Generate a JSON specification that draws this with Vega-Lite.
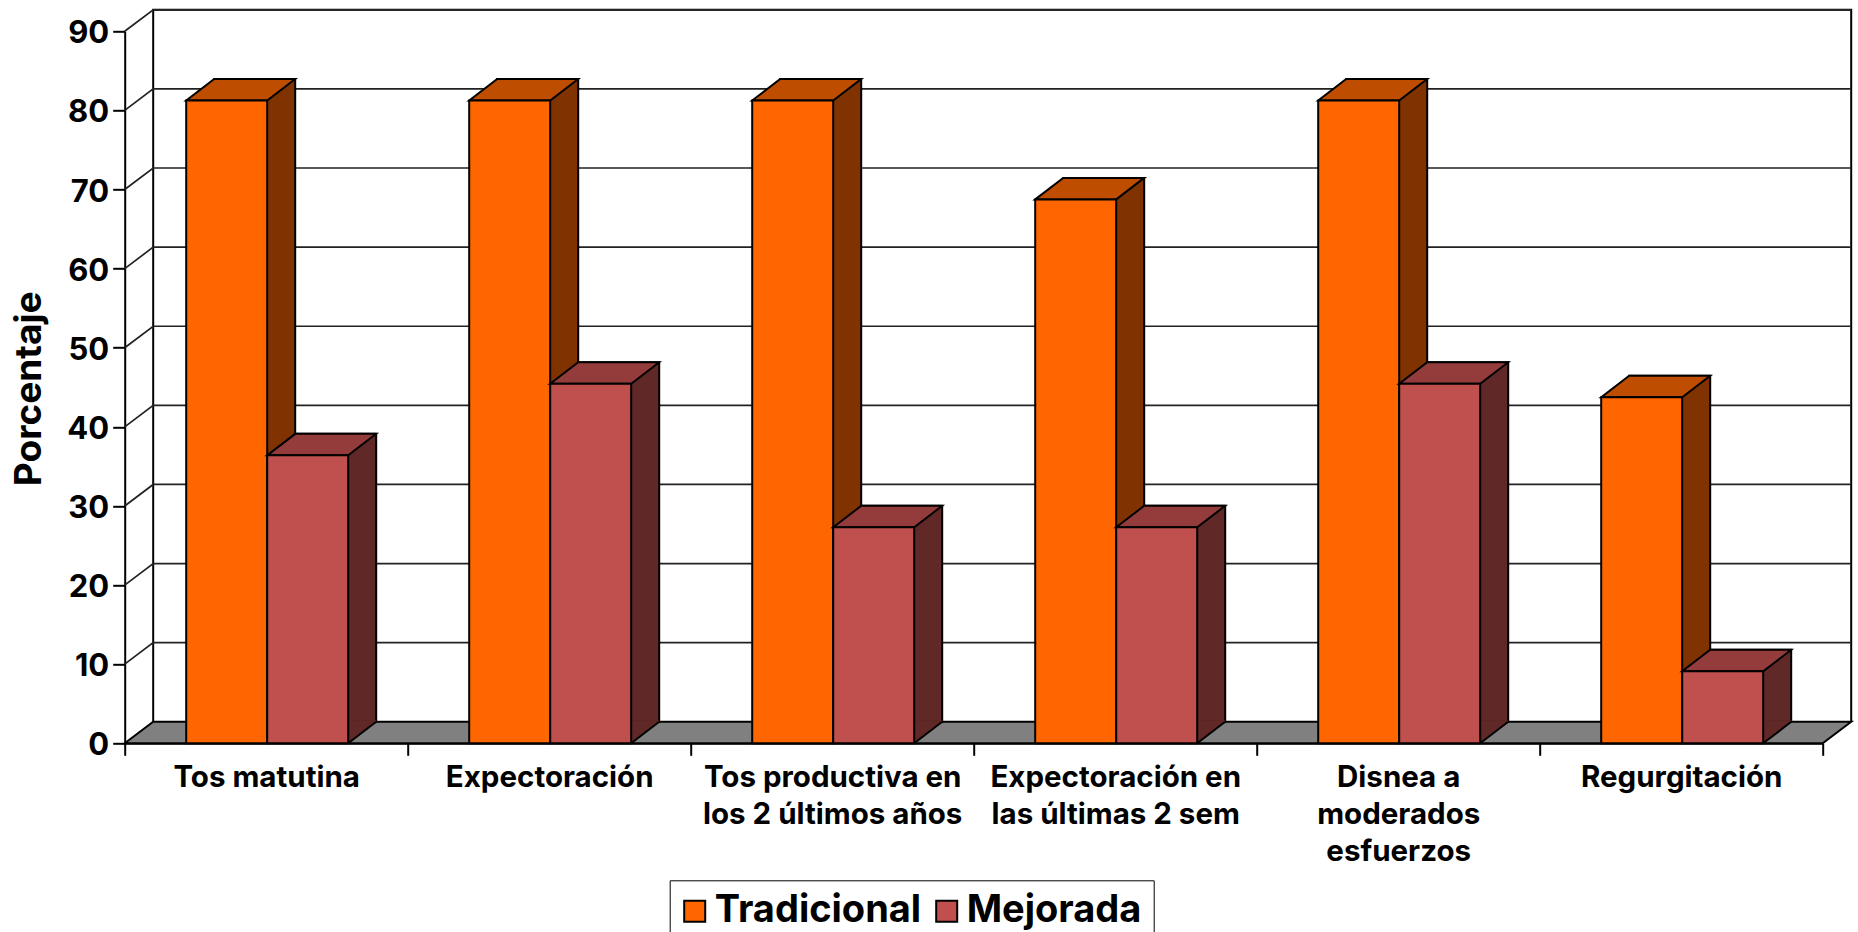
{
"$schema":"https://vega.github.io/schema/vega-lite/v6.json",
"autosize":{"type":"none"},
"width":1698,"height":712,
"padding":{"left":124.7,"top":31.3,"right":35.3,"bottom":188.7},
"background":"white",
"config":{"view":{"stroke":null},"font":"Inter"},
"data":{"values":[
{"categoria":"Tos matutina","serie":"Tradicional","valor":81.25},
{"categoria":"Tos matutina","serie":"Mejorada","valor":36.4},
{"categoria":"Expectoración","serie":"Tradicional","valor":81.25},
{"categoria":"Expectoración","serie":"Mejorada","valor":45.45},
{"categoria":"Tos productiva en los 2 últimos años","serie":"Tradicional","valor":81.25},
{"categoria":"Tos productiva en los 2 últimos años","serie":"Mejorada","valor":27.3},
{"categoria":"Expectoración en las últimas 2 sem","serie":"Tradicional","valor":68.75},
{"categoria":"Expectoración en las últimas 2 sem","serie":"Mejorada","valor":27.3},
{"categoria":"Disnea a moderados esfuerzos","serie":"Tradicional","valor":81.25},
{"categoria":"Disnea a moderados esfuerzos","serie":"Mejorada","valor":45.45},
{"categoria":"Regurgitación","serie":"Tradicional","valor":43.75},
{"categoria":"Regurgitación","serie":"Mejorada","valor":9.1}
]},
"layer":[
{"data":{"values":[{"valor":0}]},
 "mark":{"type":"point","shape":"M-141.5,0L-113,-21.5L1585,-21.5L1556.5,0Z","size":4,"filled":true,"fill":"#808080","stroke":"#000","strokeWidth":2,"opacity":1},
 "encoding":{
  "x":{"datum":"Tos matutina","type":"nominal","title":null,
   "scale":{"type":"band","domain":["Tos matutina","Expectoración","Tos productiva en los 2 últimos años","Expectoración en las últimas 2 sem","Disnea a moderados esfuerzos","Regurgitación"],"paddingInner":0,"paddingOuter":0},
   "axis":{"title":null,"labelAngle":0,"labelAlign":"center","labelBaseline":"top","labelFont":"Inter","labelFontWeight":"bold","labelFontSize":29.5,"labelColor":"#000","labelLineHeight":37,"labelPadding":8,"labelLimit":0,"labelOverlap":false,"tickBand":"extent","tickSize":12,"tickWidth":2,"tickColor":"#000","domainColor":"#000","domainWidth":2,
    "labelExpr":"datum.label=='Tos productiva en los 2 últimos años'?['Tos productiva en','los 2 últimos años']:datum.label=='Expectoración en las últimas 2 sem'?['Expectoración en','las últimas 2 sem']:datum.label=='Disnea a moderados esfuerzos'?['Disnea a','moderados','esfuerzos']:datum.label"}},
  "y":{"field":"valor","type":"quantitative","title":"Porcentaje","scale":{"domain":[0,90],"nice":false},
   "axis":{"values":[0,10,20,30,40,50,60,70,80,90],"grid":false,"labelFont":"Inter","labelFontWeight":"bold","labelFontSize":31,"labelColor":"#000","labelPadding":4,"labelOffset":2.5,"tickSize":12,"tickWidth":2,"tickColor":"#000","domainColor":"#000","domainWidth":2,
    "titleFont":"Inter","titleFontWeight":"bold","titleFontSize":37,"titleColor":"#000","titleX":-76,"titleY":357,"titleAlign":"center"}}
 }},
{"data":{"values":[{"valor":0}]},
 "mark":{"type":"point","shape":"M-113,-21.5L-113,-733.5L1585,-733.5L1585,-21.5","size":4,"filled":false,"fill":null,"stroke":"#000","strokeWidth":2,"opacity":1},
 "encoding":{"x":{"datum":"Tos matutina","type":"nominal","title":null},"y":{"field":"valor","type":"quantitative"}}},
{"data":{"values":[{"valor":10},{"valor":20},{"valor":30},{"valor":40},{"valor":50},{"valor":60},{"valor":70},{"valor":80},{"valor":90}]},
 "mark":{"type":"point","shape":"M-141.5,0L-113,-21.5L1585,-21.5","size":4,"filled":false,"fill":null,"stroke":"#222","strokeWidth":1.7,"opacity":1},
 "encoding":{"x":{"datum":"Tos matutina","type":"nominal","title":null},"y":{"field":"valor","type":"quantitative"}}},

{"transform":[{"filter":"datum.serie==='Tradicional'"}],
 "mark":{"type":"bar","width":81,"xOffset":-11.5,"yOffset":-21.5,"y2Offset":-21.5,"fill":"#803300","stroke":"#000","strokeWidth":2},
 "encoding":{"x":{"field":"categoria","type":"nominal","title":null},"y":{"field":"valor","type":"quantitative","stack":null},"y2":{"datum":0}}},
{"transform":[{"filter":"datum.serie==='Tradicional'"}],
 "mark":{"type":"point","shape":"M-81,0L-53,-21.5L28,-21.5L0,0Z","size":4,"filled":true,"fill":"#BF4D00","stroke":"#000","strokeWidth":2,"xOffset":1,"opacity":1},
 "encoding":{"x":{"field":"categoria","type":"nominal","title":null},"y":{"field":"valor","type":"quantitative"}}},
{"transform":[{"filter":"datum.serie==='Tradicional'"}],
 "mark":{"type":"bar","width":81,"xOffset":-39.5,"stroke":"#000","strokeWidth":2},
 "encoding":{"x":{"field":"categoria","type":"nominal","title":null},"y":{"field":"valor","type":"quantitative","stack":null},
  "color":{"field":"serie","type":"nominal","scale":{"domain":["Tradicional","Mejorada"],"range":["#FF6600","#C0504D"]},
   "legend":{"title":null,"orient":"none","legendX":545,"legendY":849,"direction":"horizontal","fillColor":"white","strokeColor":"#000","padding":12,"symbolType":"square","symbolSize":441,"symbolStrokeColor":"#000","symbolStrokeWidth":2,"symbolOpacity":1,"symbolOffset":-6,"labelFont":"Inter","labelFontWeight":"bold","labelFontSize":38,"labelColor":"#000","labelOffset":1,"labelLimit":0,"columnPadding":10}}}},

{"transform":[{"filter":"datum.serie==='Mejorada'"}],
 "mark":{"type":"bar","width":81,"xOffset":69.5,"yOffset":-21.5,"y2Offset":-21.5,"fill":"#602826","stroke":"#000","strokeWidth":2},
 "encoding":{"x":{"field":"categoria","type":"nominal","title":null},"y":{"field":"valor","type":"quantitative","stack":null},"y2":{"datum":0}}},
{"transform":[{"filter":"datum.serie==='Mejorada'"}],
 "mark":{"type":"point","shape":"M0,0L28,-21.5L28,-23L0,-23Z","size":4,"filled":true,"fill":"#602826","strokeWidth":0,"xOffset":82,"opacity":1},
 "encoding":{"x":{"field":"categoria","type":"nominal","title":null},"y":{"datum":0,"type":"quantitative"}}},
{"transform":[{"filter":"datum.serie==='Mejorada'"}],
 "mark":{"type":"point","shape":"M0,0L28,-21.5","size":4,"filled":false,"fill":null,"stroke":"#000","strokeWidth":2,"xOffset":82,"opacity":1},
 "encoding":{"x":{"field":"categoria","type":"nominal","title":null},"y":{"datum":0,"type":"quantitative"}}},
{"transform":[{"filter":"datum.serie==='Mejorada'"}],
 "mark":{"type":"point","shape":"M0,0L28,-21.5L109,-21.5L81,0Z","size":4,"filled":true,"fill":"#943C3B","stroke":"#000","strokeWidth":2,"xOffset":1,"opacity":1},
 "encoding":{"x":{"field":"categoria","type":"nominal","title":null},"y":{"field":"valor","type":"quantitative"}}},
{"transform":[{"filter":"datum.serie==='Mejorada'"}],
 "mark":{"type":"bar","width":81,"xOffset":41.5,"stroke":"#000","strokeWidth":2},
 "encoding":{"x":{"field":"categoria","type":"nominal","title":null},"y":{"field":"valor","type":"quantitative","stack":null},
  "color":{"field":"serie","type":"nominal"}}}
]
}
